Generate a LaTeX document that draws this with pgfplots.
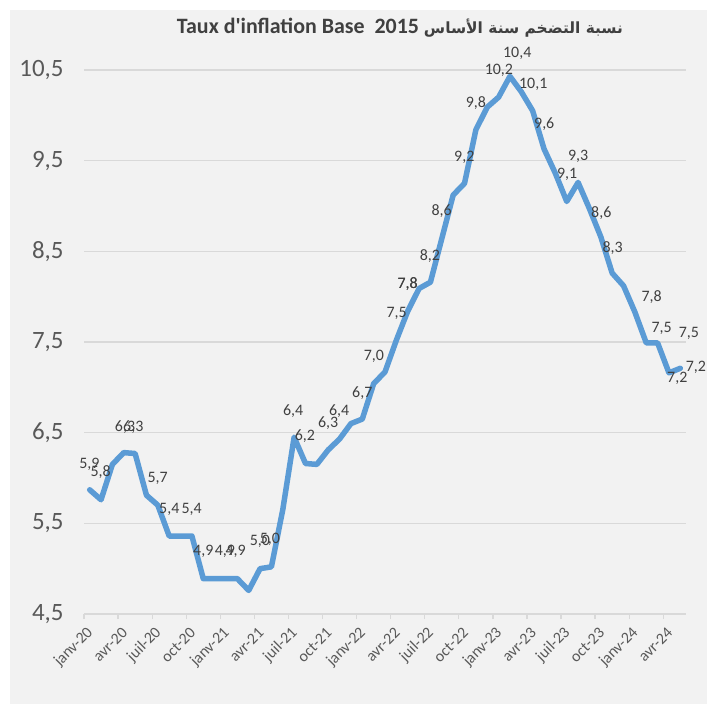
\documentclass[border=0pt]{standalone}
\usepackage{pgfplots}
\pgfplotsset{compat=1.18}
\usepackage{pgfplotstable}
\usepackage{fontspec}
\setmainfont{Carlito}[Ligatures=TeXOff]
\newfontfamily\arabicfont[Script=Arabic]{DejaVu Sans}
\TeXXeTstate=1
\definecolor{linecol}{HTML}{5B9BD5}
\definecolor{bggray}{HTML}{F2F2F2}
\definecolor{gridgray}{HTML}{D9D9D9}
\definecolor{tickgray}{HTML}{595959}
\definecolor{labgray}{HTML}{404040}

\pgfplotstableread{
x y
0 5.87
1 5.76
2 6.15
3 6.28
4 6.27
5 5.81
6 5.70
7 5.36
8 5.36
9 5.36
10 4.89
11 4.89
12 4.89
13 4.89
14 4.76
15 5.00
16 5.02
17 5.65
18 6.45
19 6.16
20 6.15
21 6.31
22 6.43
23 6.60
24 6.65
25 7.04
26 7.17
27 7.52
28 7.84
29 8.09
30 8.16
31 8.64
32 9.12
33 9.25
34 9.84
35 10.09
36 10.20
37 10.43
38 10.26
39 10.05
40 9.63
41 9.36
42 9.05
43 9.26
44 8.97
45 8.66
46 8.26
47 8.12
48 7.83
49 7.49
50 7.49
51 7.16
52 7.21
}\inflation

\pgfplotstableread{
x y label
-0.03 6.15 5,9
0.97 6.06 5,8
3.11 6.56 6,3
3.84 6.56 6,3
5.99 6.00 5,7
7.01 5.65 5,4
8.98 5.65 5,4
10.00 5.19 4,9
11.91 5.19 4,9
12.85 5.19 4,9
14.99 5.30 5,0
15.87 5.32 5,0
17.92 6.74 6,4
18.95 6.46 6,2
21.00 6.61 6,3
21.97 6.74 6,4
24.00 6.94 6,7
25.03 7.34 7,0
27.03 7.82 7,5
27.99 8.14 7,8
27.99 8.14 7,8
29.96 8.45 8,2
30.99 8.94 8,6
32.98 9.54 9,2
34.01 10.13 9,8
36.03 10.50 10,2
37.64 10.68 10,4
39.05 10.34 10,1
40.02 9.90 9,6
42.04 9.35 9,1
43.01 9.55 9,3
45.04 8.92 8,6
46.04 8.54 8,3
49.47 8.00 7,8
50.35 7.65 7,5
52.76 7.60 7,5
51.73 7.10 7,2
53.37 7.22 7,2
}\labels

\begin{document}
\begin{tikzpicture}
% background: image pixel (px,py) -> (px-84, 614-py) bp
\fill[white] (-84bp,-90bp) rectangle (623bp,614bp);
\fill[bggray] (-74bp,-90bp) rectangle (623bp,604bp);
\node[font=\bfseries\fontsize{22}{26}\selectfont, text=labgray] at (316bp,586bp)
  {Taux d'inflation Base\ \ 2015 {\arabicfont\bfseries\fontsize{15.5}{20}\selectfont\beginR نسبة التضخم سنة الأساس\endR}};
\begin{axis}[
  at={(0,0)}, anchor=south west,
  scale only axis,
  width=602bp, height=544bp,
  xmin=-0.5, xmax=52.5,
  ymin=4.5, ymax=10.5,
  clip=false,
  axis x line*=bottom,
  axis y line*=left,
  x axis line style={draw=gridgray, line width=1.3bp},
  y axis line style={draw=none},
  ymajorgrids,
  grid style={draw=gridgray, line width=1.3bp},
  ytick={4.5,5.5,6.5,7.5,8.5,9.5,10.5},
  yticklabels={{4,5},{5,5},{6,5},{7,5},{8,5},{9,5},{10,5}},
  ytick style={draw=none},
  yticklabel style={font=\fontsize{25}{29}\selectfont, text=tickgray, xshift=-12bp},
  xtick={-0.5,2.5,...,50.5},
  xticklabels={janv-20,avr-20,juil-20,oct-20,janv-21,avr-21,juil-21,oct-21,janv-22,avr-22,juil-22,oct-22,janv-23,avr-23,juil-23,oct-23,janv-24,avr-24},
  tick align=outside,
  major tick length=5bp,
  xtick style={draw=gridgray, line width=1.3bp},
  xticklabel style={font=\fontsize{16}{18}\selectfont, text=tickgray, xshift=9bp, yshift=-9bp, rotate=45, anchor=east},
  /pgf/number format/assume math mode=true,
]
\addplot[linecol, line width=5.5bp, line join=round, line cap=round] table[x=x, y=y] {\inflation};
\addplot[draw=none, nodes near coords, point meta=explicit symbolic,
  nodes near coords style={anchor=center, font=\fontsize{16}{18}\selectfont, text=labgray}]
  table[x=x, y=y, meta=label] {\labels};
\end{axis}
\pgfresetboundingbox
\path[use as bounding box] (-84bp,-90bp) rectangle (623bp,614bp);
\end{tikzpicture}
\end{document}
